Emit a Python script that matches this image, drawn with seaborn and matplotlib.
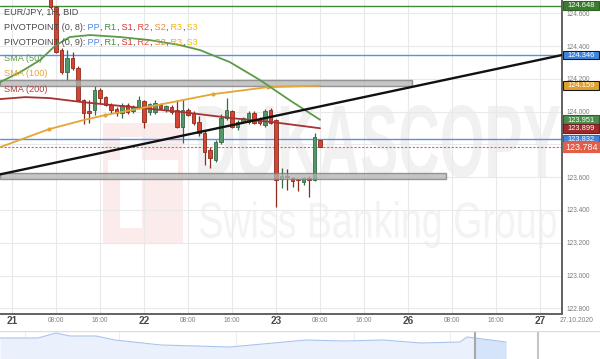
import numpy as np
import pandas as pd
import matplotlib
matplotlib.use("Agg")
import matplotlib.pyplot as plt
import matplotlib.transforms as mtransforms
from matplotlib.patches import Rectangle, PathPatch
from matplotlib.textpath import TextPath
from matplotlib.font_manager import FontProperties
import seaborn as sns

W, H = 600, 359

# ---------------- data ----------------
# hourly candles, x = trading hours since 21 Oct 00:00 (weekend skipped)
candle_hour = list(range(7, 57))
candle_open = [124.800, 124.639, 124.376, 124.242, 124.327, 124.266, 124.070, 124.003, 124.009, 124.132,
               124.089, 124.040, 124.015, 123.991, 124.040, 124.003, 124.028, 124.064, 123.997, 123.997,
               124.040, 124.009, 124.028, 124.009, 123.905, 124.009, 123.991, 123.936, 123.869, 123.765,
               123.703, 123.813, 123.960, 124.003, 123.905, 123.936, 123.936, 123.991, 123.954, 123.917,
               124.009, 123.948, 123.587, 123.606, 123.593, 123.587, 123.569, 123.593, 123.581, 123.826]
candle_high = [124.820, 124.645, 124.388, 124.376, 124.364, 124.278, 124.077, 124.070, 124.156, 124.144,
               124.095, 124.052, 124.028, 124.052, 124.052, 124.040, 124.095, 124.070, 124.052, 124.070,
               124.052, 124.040, 124.040, 124.070, 124.077, 124.021, 124.003, 123.972, 123.887, 123.783,
               123.826, 123.985, 124.083, 124.009, 123.948, 123.966, 124.003, 124.003, 123.966, 124.015,
               124.021, 123.954, 123.654, 123.648, 123.600, 123.590, 123.599, 123.610, 123.869, 123.830]
candle_low = [124.630, 124.360, 124.229, 124.193, 124.254, 124.064, 123.924, 123.930, 123.979, 124.052,
              124.034, 123.991, 123.972, 123.960, 123.985, 123.991, 124.015, 123.899, 123.979, 123.985,
              124.015, 123.997, 123.985, 123.899, 123.807, 123.972, 123.917, 123.850, 123.673, 123.654,
              123.695, 123.800, 123.950, 123.899, 123.887, 123.930, 123.924, 123.924, 123.917, 123.905,
              123.924, 123.416, 123.532, 123.520, 123.538, 123.514, 123.550, 123.477, 123.575, 123.783]
candle_close = [124.639, 124.364, 124.242, 124.327, 124.266, 124.070, 123.991, 123.991, 124.132, 124.083,
                124.040, 124.009, 123.991, 124.040, 123.997, 124.028, 124.070, 123.936, 124.046, 124.052,
                124.021, 124.034, 123.997, 123.905, 124.009, 123.979, 123.930, 123.869, 123.752, 123.716,
                123.813, 123.960, 124.009, 123.905, 123.936, 123.960, 123.991, 123.930, 123.930, 124.003,
                123.930, 123.581, 123.606, 123.599, 123.575, 123.581, 123.593, 123.581, 123.844, 123.784]

sma50_hour = [-2.2, 1.5, 5.1, 7.8, 10.5, 14.2, 19.6, 25.1, 30.5, 34.2, 39.6, 45.1, 50.5, 56]
sma50_val = [124.180, 124.242, 124.315, 124.401, 124.456, 124.468, 124.456, 124.437, 124.407, 124.376,
             124.303, 124.193, 124.070, 123.951]
sma100_hour = [-2.2, 6.7, 12.9, 16.9, 28.2, 36.5, 46.5, 56]
sma100_val = [123.783, 123.893, 123.948, 123.979, 124.052, 124.107, 124.150, 124.159]
sma200_hour = [-2.2, 2.4, 6.9, 12.9, 22.0, 31.1, 40.2, 47.5, 56]
sma200_val = [124.077, 124.089, 124.083, 124.058, 124.028, 123.997, 123.960, 123.936, 123.899]

level_vals = [124.648, 124.346, 123.832]
level_colors = ["#3d8b37", "#5b8fe6", "#5b8fe6"]
last_price = 123.784
zone_low = [124.156, 123.587]
zone_high = [124.193, 123.624]
zone_end_hour = [72.7, 78.9]
trend_hour = [-2.2, 100]
trend_val = [123.617, 124.346]

tick_hours = list(range(0, 97, 8))
tick_labels = ["21", "08:00", "16:00", "22", "08:00", "16:00", "23", "08:00", "16:00",
               "26", "08:00", "16:00", "27"]
y_ticks = [122.8, 123.0, 123.2, 123.4, 123.6, 123.8, 124.0, 124.2, 124.4, 124.6]

box_vals = [124.648, 124.346, 124.159, 123.951, 123.899, 123.832, 123.784]
box_fc = ["#3b7d2e", "#3f86e0", "#e3a12b", "#4c8c4c", "#9e2a2b", "#3f86e0", "#e35d48"]
box_ec = ["#2f5f25", "#1a1a1a", "#1a1a1a", "#2f5f2f", "#6e1e1e", "#2a64b0", "#e35d48"]

nav_t = [0, 38, 56, 70, 96, 115, 161, 230, 306, 345, 383, 421, 460, 467, 475, 506]
nav_close = [123.1, 123.1, 123.6, 123.3, 123.3, 122.9, 122.4, 122.2, 122.9, 122.8, 122.9, 122.6,
             122.7, 123.2, 123.1, 122.7]

# ---------------- style ----------------
sns.set_theme(style="white")
plt.rcParams["font.family"] = ["Liberation Sans", "DejaVu Sans"]

fig = plt.figure(figsize=(W / 100, H / 100), dpi=100)
fig.patch.set_facecolor("white")
ax_h = 313.5
ax = fig.add_axes([0, (H - ax_h) / H, 562 / W, ax_h / H])
ax.set_facecolor("none")
ymin, ymax = 122.768, 124.682
xmin, xmax = -12 / 5.5, 100
ax.set_xlim(xmin, xmax)
ax.set_ylim(ymin, ymax)

# grid
ax.set_axisbelow(True)
ax.set_xticks(tick_hours)
ax.set_xticklabels([""] * len(tick_hours))
ax.set_yticks(y_ticks)
ax.set_yticklabels([f"{v:.3f}" for v in y_ticks])
ax.grid(True, color="#e9e9e9", lw=0.8)
ax.yaxis.tick_right()
ax.tick_params(axis="y", length=0, pad=3.2, labelsize=4.7, labelcolor="#7a7a7a")
ax.tick_params(axis="x", length=0)
for s in ["left", "top"]:
    ax.spines[s].set_visible(False)
for s in ["right", "bottom"]:
    ax.spines[s].set_color("#555555")
    ax.spines[s].set_linewidth(1.3)

# watermark
def stretched_text(s, box, color, weight):
    x0, y0, x1, y1 = box
    fp = FontProperties(family="Liberation Sans", weight=weight)
    tp = TextPath((0, 0), s, size=100, prop=fp)
    ext = tp.get_extents()
    tr = (mtransforms.Affine2D().translate(-ext.x0, -ext.y0)
          .scale((x1 - x0) / ext.width, (y1 - y0) / ext.height)
          .translate(x0, H - y1))
    p = PathPatch(tr.transform_path(tp), fc=color, ec="none", lw=0,
                  transform=mtransforms.IdentityTransform(), zorder=0.2)
    ax.add_artist(p)

stretched_text("DUKASCOPY", (198, 105, 560, 178), "#f1f1f1", "bold")
stretched_text("Swiss Banking Group", (200, 201, 556, 248), "#f3f3f3", "normal")
for (x0, y0, x1, y1, c) in [(103, 123, 183, 243, "#fcebeb"), (120, 137, 142, 228, "white"),
                            (108, 160, 178, 180, "white")]:
    ax.add_artist(Rectangle((x0, H - y1), x1 - x0, y1 - y0, fc=c, ec="none",
                            transform=mtransforms.IdentityTransform(), zorder=0.25))

# zones
for lo, hi, end in zip(zone_low, zone_high, zone_end_hour):
    ax.add_patch(Rectangle((xmin, lo), end - xmin, hi - lo, fc="#b4b4b4", ec="#7a7a7a",
                           lw=1.0, alpha=0.75, zorder=3.5))

# horizontal levels
for v, c in zip(level_vals, level_colors):
    ax.axhline(v, color=c, lw=1.0, zorder=2)
ax.axhline(last_price, color="#e0604d", lw=0.8, ls=(0, (2, 1.5)), zorder=2)

# candles
df = pd.DataFrame({"hour": candle_hour, "open": candle_open, "high": candle_high,
                   "low": candle_low, "close": candle_close})
df["up"] = df["close"] >= df["open"]
for up, fc, ec in [(True, "#54986a", "#356b47"), (False, "#d24632", "#8e2a1e")]:
    d = df[df["up"] == up]
    ax.vlines(d["hour"], d["low"], d["high"], color=ec, lw=0.9, zorder=3)
    ax.bar(d["hour"], (d["close"] - d["open"]).abs().clip(lower=0.005),
           bottom=d[["open", "close"]].min(axis=1), width=0.72, color=fc,
           edgecolor=ec, linewidth=0.6, zorder=3.2)

# moving averages
sns.lineplot(x=sma200_hour, y=sma200_val, ax=ax, color="#a83232", lw=1.3, zorder=4)
sns.lineplot(x=sma100_hour, y=sma100_val, ax=ax, color="#e3a634", lw=1.3, zorder=4,
             marker="o", markersize=3, markevery=[1, 3, 5, 6], markeredgewidth=0)
sns.lineplot(x=sma50_hour, y=sma50_val, ax=ax, color="#5b9b48", lw=1.3, zorder=4)

# trend line
ax.plot(trend_hour, trend_val, color="#111111", lw=1.7, zorder=5, solid_capstyle="butt")

# x labels
bx = mtransforms.blended_transform_factory(ax.transData, ax.transAxes)
for hh, lab in zip(tick_hours, tick_labels):
    day = ":" not in lab
    ax.text(hh, -7.3 / ax_h, lab, transform=bx, ha="center", va="center",
            fontsize=7.2 if day else 4.8, color="#4a4a4a" if day else "#808080",
            fontweight="bold" if day else "normal", clip_on=False)
fig.text(577 / W, 1 - 320.8 / H, "27.10.2020", ha="center", va="center",
         fontsize=4.9, color="#808080")

# right value boxes
bt = mtransforms.blended_transform_factory(ax.transAxes, ax.transData)
ppx = (ymax - ymin) / ax_h
for v, fc, ec in zip(box_vals, box_fc, box_ec):
    big = v == last_price
    hpx = 10 if big else 8.5
    wpx = 37.5 if big else 36
    ax.add_patch(Rectangle((1 + 1 / 562, v - hpx / 2 * ppx), wpx / 562, hpx * ppx,
                           transform=bt, fc=fc, ec=ec, lw=0.8, clip_on=False, zorder=10))
    ax.text(1 + (1 + wpx / 2) / 562, v - 0.3 * ppx, f"{v:.3f}", transform=bt, ha="center",
            va="center", color="white", fontsize=6.4 if big else 5.4, clip_on=False, zorder=11)

# legend texts top-left
renderer = fig.canvas.get_renderer()
def line_text(y_img, parts, fs=6.6):
    x = 3.5
    for s, c in parts:
        t = fig.text(x / W, 1 - y_img / H, s, color=c, fontsize=fs, ha="left", va="center")
        x += t.get_window_extent(renderer).width

g = "#4a4a4a"
pivot_parts = [(" PP", "#4a86e8"), (",", g), (" R1", "#3f8f3f"), (",", g), (" S1", "#d03434"),
               (",", g), (" R2", "#e04a3a"), (",", g), (" S2", "#f08a30"), (",", g),
               (" R3", "#f0b020"), (",", g), (" S3", "#f2c200")]
line_text(12.7, [("EUR/JPY, 1H, BID", g)])
line_text(27.0, [("PIVOTPOINT (0, 8):", g)] + pivot_parts)
line_text(42.5, [("PIVOTPOINT (0, 9):", g)] + pivot_parts)
line_text(58.3, [("SMA (50)", "#5b9b48")])
line_text(74.0, [("SMA (100)", "#e3a634")])
line_text(89.5, [("SMA (200)", "#b04040")])

# navigator
nav = fig.add_axes([0, 0, 1, 28 / H])
nav.set_xlim(0, 600)
nav.set_ylim(121.0, 123.8)
nav.set_facecolor("none")
nav.axis("off")
for gx in [25, 119, 236, 354, 450]:
    nav.axvline(gx, color="#eeeeee", lw=0.8, zorder=0)
nav.fill_between(nav_t, nav_close, 121.0, color="#eaf1fc", lw=0, zorder=1)
sel = [i for i, t in enumerate(nav_t) if t >= 475]
nav.fill_between([nav_t[i] for i in sel], [nav_close[i] for i in sel], 121.0,
                 color="#d6e4f9", lw=0, zorder=1.5)
sns.lineplot(x=nav_t, y=nav_close, ax=nav, color="#a9c4ef", lw=0.8, zorder=2)
nav.axvline(475, color="#a8a8a8", lw=1.5, zorder=3)
nav.axvline(538, color="#c4c4c4", lw=1.5, zorder=3)
nav.axhline(123.8, color="#dddddd", lw=1.0, zorder=3)

fig.savefig("out.png", dpi=100, facecolor="white")
